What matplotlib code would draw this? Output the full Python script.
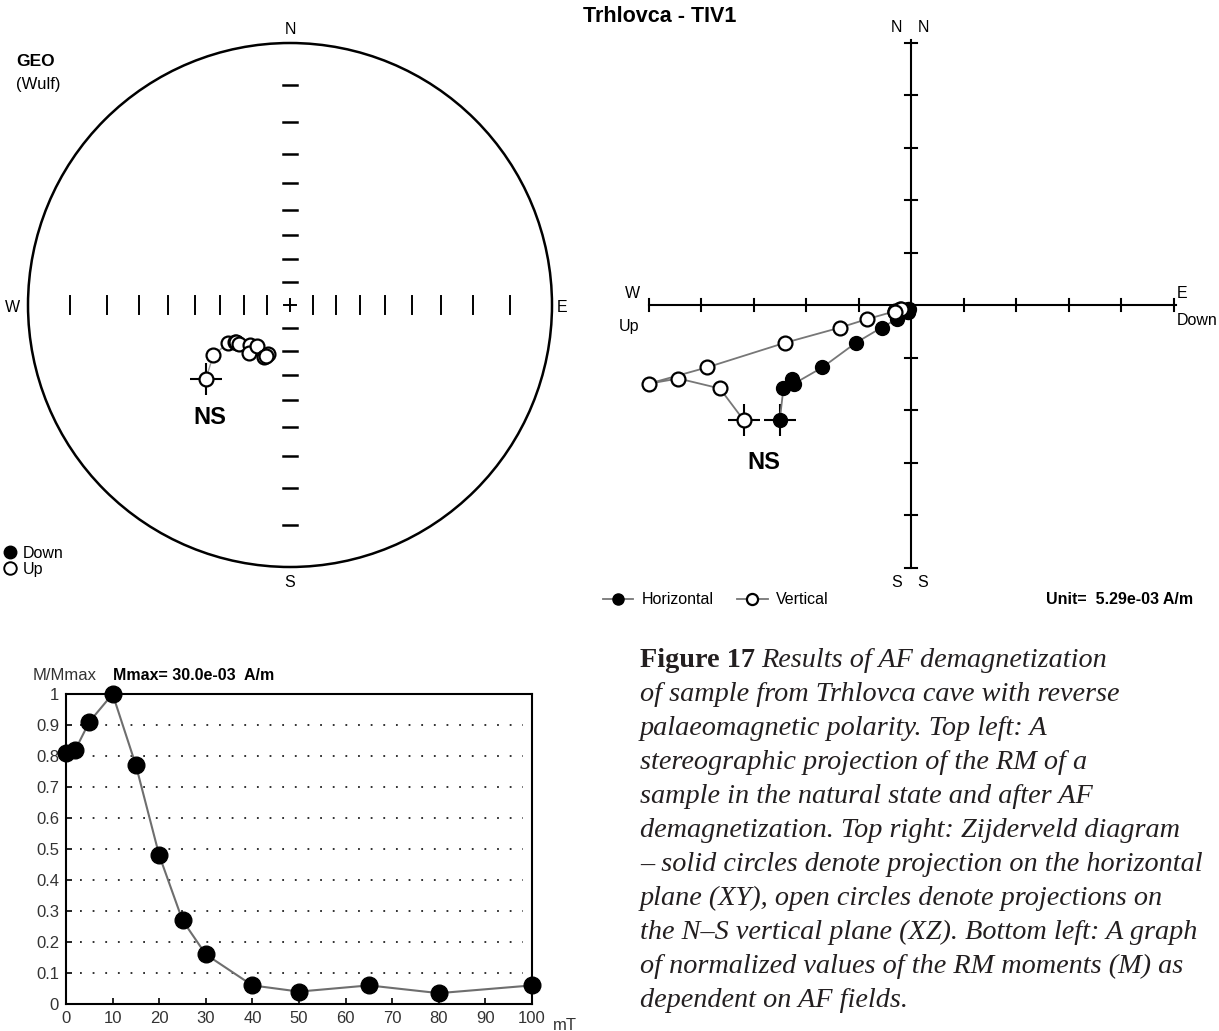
import numpy as np
import matplotlib
matplotlib.use("Agg")
import matplotlib.pyplot as plt
from matplotlib.patches import Circle
from matplotlib.lines import Line2D

plt.rcParams['font.family'] = ['Liberation Sans', 'DejaVu Sans']

# ---------------------------------------------------------------
# data
af_steps = [0, 2, 5, 10, 15, 20, 25, 30, 40, 50, 65, 80, 100]          # mT
m_norm = [0.81, 0.82, 0.91, 1.00, 0.77, 0.48, 0.27, 0.16,
          0.06, 0.04, 0.06, 0.035, 0.06]                                # M/Mmax
# remanence components in Zijderveld units (1 unit = 5.29e-03 A/m)
comp_n = [-2.19, -1.59, -1.40, -1.50, -1.19, -0.72, -0.43, -0.27,
          -0.118, -0.069, -0.129, -0.071, -0.127]
comp_e = [-2.50, -2.43, -2.27, -2.23, -1.69, -1.05, -0.56, -0.27,
          -0.100, -0.055, -0.064, -0.032, -0.060]
comp_z = [-3.19, -3.64, -4.43, -5.00, -3.89, -2.40, -1.35, -0.84,
          -0.303, -0.209, -0.308, -0.182, -0.310]                       # + down

zij_ticks = [1, 2, 3, 4, 5]
net_ticks = [10, 20, 30, 40, 50, 60, 70, 80]   # inclination ticks (deg)
y_ticks = [0, 0.1, 0.2, 0.3, 0.4, 0.5, 0.6, 0.7, 0.8, 0.9, 1]
x_ticks = [0, 10, 20, 30, 40, 50, 60, 70, 80, 90, 100]

caption = [
    "of sample from Trhlovca cave with reverse",
    "palaeomagnetic polarity. Top left: A",
    "stereographic projection of the RM of a",
    "sample in the natural state and after AF",
    "demagnetization. Top right: Zijderveld diagram",
    "\u2013 solid circles denote projection on the horizontal",
    "plane (XY), open circles denote projections on",
    "the N\u2013S vertical plane (XZ). Bottom left: A graph",
    "of normalized values of the RM moments (M) as",
    "dependent on AF fields.",
]

# ---------------------------------------------------------------
W, H = 1219, 1031
fig = plt.figure(figsize=(W / 100, H / 100), dpi=100)
LBL = 11.5


def px_rect(x0, y0, x1, y1):
    return [x0 / W, 1 - y1 / H, (x1 - x0) / W, (y1 - y0) / H]


n = np.array(comp_n)
e = np.array(comp_e)
z = np.array(comp_z)
dec = np.arctan2(e, n)
inc = np.arctan2(z, np.hypot(n, e))

# ---------------------------------------------------------------
# stereographic (Wulff) projection
ax_s = fig.add_axes(px_rect(10, 25, 570, 585))
lim = 280 / 262
ax_s.set_xlim(-lim, lim)
ax_s.set_ylim(-lim, lim)
ax_s.set_aspect('equal')
ax_s.axis('off')
ax_s.add_patch(Circle((0, 0), 1, fill=False, lw=1.8, color='black'))
for t in net_ticks:
    d = np.tan(np.radians(90 - t) / 2)
    for s in (-1, 1):
        ax_s.plot([s * d, s * d], [-0.034, 0.034], color='black', lw=1.4)
        ax_s.plot([-0.027, 0.027], [s * d, s * d], color='black', lw=1.8)
ax_s.plot([-0.022, 0.022], [0, 0], color='black', lw=1.4)
ax_s.plot([0, 0], [-0.022, 0.022], color='black', lw=1.4)

r = np.tan(np.pi / 4 - np.abs(inc) / 2)
sx = r * np.sin(dec)
sy = r * np.cos(dec)
up = inc < 0
ax_s.plot(sx, sy, color='#9a9a9a', lw=1.0, zorder=2)
ax_s.plot(sx[0], sy[0], marker='+', ms=23, mew=1.5, color='black', zorder=3)
ax_s.plot(sx[up], sy[up], 'o', ms=10, mfc='white', mec='black', mew=1.6, zorder=4)
ax_s.plot(sx[~up], sy[~up], 'o', ms=10, mfc='black', mec='black', zorder=4)

ax_s.text(0, 1.05, "N", ha='center', va='center', fontsize=LBL)
ax_s.text(0, -1.061, "S", ha='center', va='center', fontsize=LBL)
ax_s.text(-1.058, -0.01, "W", ha='center', va='center', fontsize=LBL)
ax_s.text(1.04, -0.01, "E", ha='center', va='center', fontsize=LBL)
ax_s.text(-0.305, -0.43, "NS", ha='center', va='center', fontsize=17, fontweight='bold')

fig.text(16 / W, 1 - 62 / H, "GEO", fontsize=12.5, fontweight='bold', va='center')
fig.text(16 / W, 1 - 85 / H, "(Wulf)", fontsize=12, va='center')
fig.legend(handles=[Line2D([], [], ls='none', marker='o', ms=9, mfc='black', mec='black'),
                    Line2D([], [], ls='none', marker='o', ms=9, mfc='white', mec='black', mew=1.4)],
           labels=["Down", "Up"], loc='upper left', bbox_to_anchor=(4 / W, 1 - 546 / H),
           frameon=False, fontsize=LBL, handlelength=0.8, handletextpad=0.4,
           labelspacing=0.05, borderpad=0, borderaxespad=0)

fig.text(660 / W, 1 - 17 / H, "Trhlovca - TIV1", ha='center', va='center',
         fontsize=15.5, fontweight='bold')

# ---------------------------------------------------------------
# Zijderveld diagram
ax_z = fig.add_axes(px_rect(611, 5, 1211, 605))
zl = 300 / 52.5
ax_z.set_xlim(-zl, zl)
ax_z.set_ylim(-zl, zl)
ax_z.set_aspect('equal')
ax_z.axis('off')
ax_z.plot([-5, 5.05], [0, 0], color='black', lw=1.5)
ax_z.plot([0, 0], [-5.0, 5.05], color='black', lw=1.5)
for t in zij_ticks:
    for s in (-1, 1):
        ax_z.plot([s * t, s * t], [-0.11, 0.11], color='black', lw=1.5)
        ax_z.plot([-0.11, 0.11], [s * t, s * t], color='black', lw=1.5)

h_line, = ax_z.plot(e, n, color='#777777', lw=1.3, marker='o', ms=10,
                    mfc='black', mec='black', zorder=4)
v_line, = ax_z.plot(z, n, color='#777777', lw=1.3, marker='o', ms=10,
                    mfc='white', mec='black', mew=1.6, zorder=4)
ax_z.plot(e[0], n[0], marker='+', ms=23, mew=1.5, color='black', zorder=3)
ax_z.plot(z[0], n[0], marker='+', ms=23, mew=1.5, color='black', zorder=3)

ax_z.text(-0.27, 5.28, "N", ha='center', va='center', fontsize=LBL)
ax_z.text(0.23, 5.28, "N", ha='center', va='center', fontsize=LBL)
ax_z.text(-0.27, -5.28, "S", ha='center', va='center', fontsize=LBL)
ax_z.text(0.23, -5.28, "S", ha='center', va='center', fontsize=LBL)
ax_z.text(-5.3, 0.22, "W", ha='center', va='center', fontsize=LBL)
ax_z.text(-5.38, -0.40, "Up", ha='center', va='center', fontsize=LBL)
ax_z.text(5.17, 0.22, "E", ha='center', va='center', fontsize=LBL)
ax_z.text(5.45, -0.30, "Down", ha='center', va='center', fontsize=LBL)
ax_z.text(-2.8, -3.00, "NS", ha='center', va='center', fontsize=17, fontweight='bold')

fig.legend(handles=[h_line, v_line], labels=["Horizontal", "Vertical"],
           loc='center left', bbox_to_anchor=(603 / W, 1 - 600 / H), ncol=2,
           frameon=False, fontsize=LBL, handlelength=1.9, handletextpad=0.5,
           columnspacing=1.5, borderpad=0, borderaxespad=0, markerscale=0.8)
fig.text(1046 / W, 1 - 600 / H, "Unit=  5.29e-03 A/m", va='center',
         fontsize=LBL, fontweight='bold')

# ---------------------------------------------------------------
# normalized intensity vs AF field
ax_b = fig.add_axes(px_rect(66, 694, 532, 1004))
ax_b.set_xlim(0, 100)
ax_b.set_ylim(0, 1)
for yv in y_ticks[1:-1]:
    ax_b.plot([3, 98], [yv, yv], color='#222222', lw=1.3, ls=(0, (1, 6)), zorder=1)
ax_b.plot(af_steps, m_norm, color='#6e6e6e', lw=1.5, marker='o', ms=12,
          mfc='black', mec='black', clip_on=False, zorder=4)
ax_b.set_xticks(x_ticks)
ax_b.set_yticks(y_ticks)
ax_b.set_yticklabels([f"{v:g}" for v in y_ticks])
ax_b.tick_params(direction='in', length=4, width=1.2, labelsize=12,
                 labelcolor='#333333', pad=5)
for sp in ax_b.spines.values():
    sp.set_linewidth(1.5)
fig.text(33 / W, 1 - 676 / H, "M/Mmax", va='center', fontsize=12, color='#333333')
fig.text(113 / W, 1 - 676 / H, "Mmax= 30.0e-03  A/m", va='center', fontsize=11.5,
         fontweight='bold')
fig.text(553 / W, 1 - 1025 / H, "mT", va='center', fontsize=12, color='#333333')

# ---------------------------------------------------------------
# caption
ov = fig.add_axes([0, 0, 1, 1])
ov.set_xlim(0, W)
ov.set_ylim(H, 0)
ov.axis('off')
cap_kw = dict(family=['Liberation Serif', 'DejaVu Serif'], fontsize=20.3, color='#231f20')
x0, y0, dy = 640, 667, 34
t1 = ov.text(x0, y0, "Figure 17", va='baseline', fontweight='bold', **cap_kw)
ov.annotate("Results of AF demagnetization", xy=(1, 0), xycoords=t1,
            xytext=(4, 0), textcoords='offset points', va='bottom',
            style='italic', **cap_kw)
for i, line in enumerate(caption, start=1):
    ov.text(x0, y0 + dy * i, line, va='baseline', style='italic', **cap_kw)

fig.savefig("out.png", dpi=100)
